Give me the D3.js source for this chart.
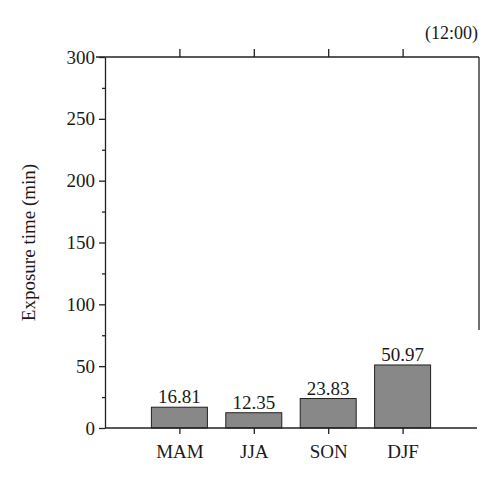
<!DOCTYPE html>
<html>
<head>
<meta charset="UTF-8">
<script src="https://d3js.org/d3.v7.min.js"></script>
<style>
  body { margin: 0; background: #fff; }
  text { font-family: "Liberation Serif", serif; fill: #1a1a1a; }
</style>
</head>
<body>
<div id="chart"></div>
<script>
var seasons = ["MAM", "JJA", "SON", "DJF"];
var exposure = [16.81, 12.35, 23.83, 50.97];
var yTicks = [0, 50, 100, 150, 200, 250, 300];

var width = 500, height = 487;
var pLeft = 105, pRight = 479, pTop = 57, pBottom = 428;

var svg = d3.select("#chart").append("svg")
  .attr("width", width).attr("height", height);

var x = d3.scaleLinear().domain([0, 5]).range([pLeft, 477]);
var y = d3.scaleLinear().domain([0, 300]).range([pBottom, pTop]);
var barW = 56;

// bars
svg.selectAll("rect.bar").data(exposure).enter().append("rect")
  .attr("class", "bar")
  .attr("x", function(d, i) { return x(i + 1) - barW / 2; })
  .attr("y", function(d) { return y(d); })
  .attr("width", barW)
  .attr("height", function(d) { return y(0) - y(d); })
  .attr("fill", "#888")
  .attr("stroke", "#222")
  .attr("stroke-width", 1);

svg.selectAll("text.val").data(exposure).enter().append("text")
  .attr("class", "val")
  .attr("x", function(d, i) { return x(i + 1); })
  .attr("y", function(d) { return y(d) - 4; })
  .attr("text-anchor", "middle")
  .style("font-size", "19px")
  .text(function(d) { return d.toFixed(2); });

// frame
svg.append("line").attr("x1", 96).attr("x2", pRight).attr("y1", pTop).attr("y2", pTop)
  .attr("stroke", "#222").attr("stroke-width", 1.3);
svg.append("line").attr("x1", pRight).attr("x2", pRight).attr("y1", pTop).attr("y2", 330)
  .attr("stroke", "#222").attr("stroke-width", 1.3);

// y axis
var yAxis = d3.axisLeft(y).tickValues(yTicks).tickSize(6).tickSizeOuter(0);
var gy = svg.append("g").attr("transform", "translate(" + pLeft + ",0)").call(yAxis);
gy.selectAll("text").style("font-size", "19px").attr("x", -10);
var gyMinor = svg.append("g").attr("transform", "translate(" + pLeft + ",0)")
  .call(d3.axisLeft(y).tickValues(d3.range(25, 300, 50)).tickSize(3).tickFormat("").tickSizeOuter(0));
gyMinor.select(".domain").remove();

// x axis bottom
var gx = svg.append("g").attr("transform", "translate(0," + pBottom + ")")
  .call(d3.axisBottom(x).tickValues([1, 2, 3, 4]).tickSize(6).tickSizeOuter(0)
    .tickFormat(function(d) { return seasons[d - 1]; }));
gx.selectAll("text").style("font-size", "19px").attr("dy", "1.1em");
gx.select(".domain").attr("d", "M" + pLeft + ",0H477");

// x ticks top
var gt = svg.append("g").attr("transform", "translate(0," + pTop + ")")
  .call(d3.axisTop(x).tickValues([1, 2, 3, 4]).tickSize(8).tickFormat(""));
gt.select(".domain").remove();

svg.selectAll(".domain, .tick line").attr("stroke", "#222").attr("stroke-width", 1.3);

svg.append("text").attr("x", 478).attr("y", 39).attr("text-anchor", "end")
  .style("font-size", "18px").text("(12:00)");

svg.append("text")
  .attr("transform", "translate(35," + (y(150)) + ") rotate(-90)")
  .attr("text-anchor", "middle")
  .style("font-size", "19px")
  .text("Exposure time (min)");
</script>
</body>
</html>
